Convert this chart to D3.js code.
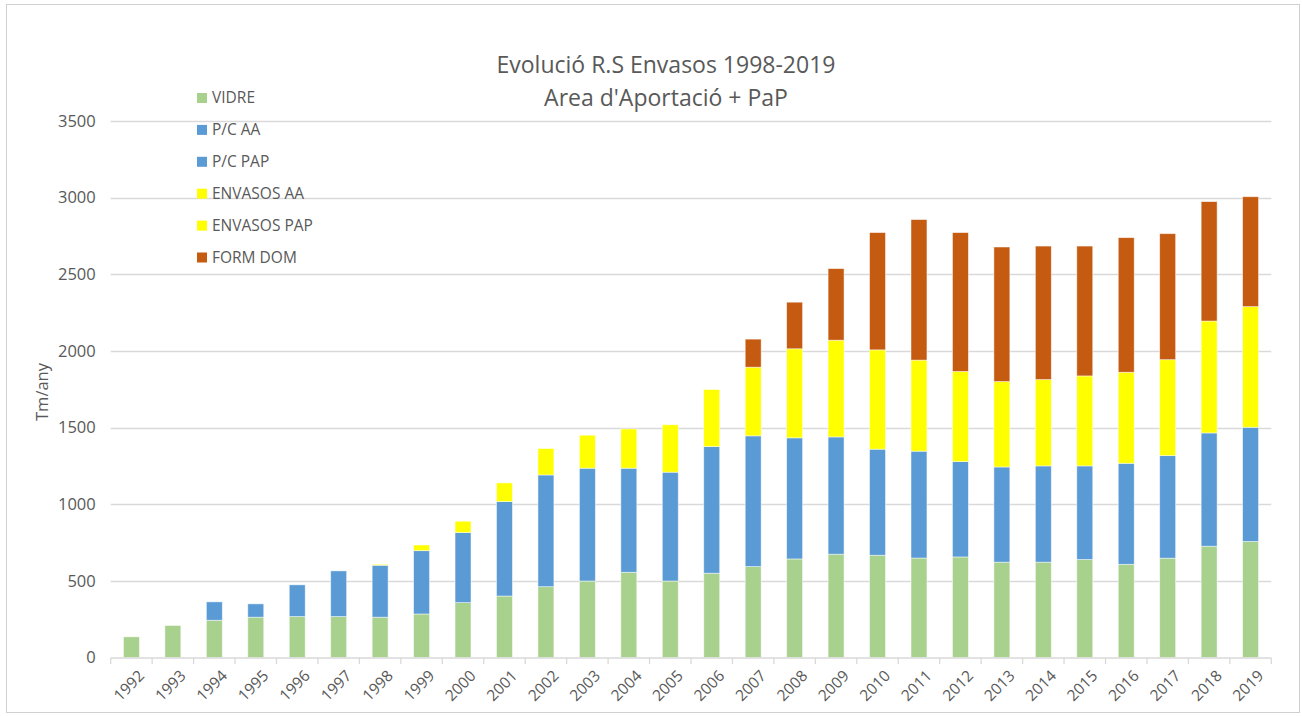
<!DOCTYPE html>
<html>
<head>
<meta charset="utf-8">
<script src="https://cdn.jsdelivr.net/npm/d3@7"></script>
<style>
  html, body { margin: 0; padding: 0; background: #fff; }
  svg { display: block; font-family: "Open Sans", "Noto Sans", sans-serif; }
</style>
</head>
<body>
<svg id="chart" width="1302" height="716"></svg>
<script>
const years = ["1992","1993","1994","1995","1996","1997","1998","1999","2000","2001","2002","2003","2004","2005","2006","2007","2008","2009","2010","2011","2012","2013","2014","2015","2016","2017","2018","2019"];
const vidre     = [135,209,243,263,267,267,263,284,358,401,462,499,556,499,550,593,643,674,667,649,656,622,622,639,608,648,726,757];
const pcAA      = [0,0,120,87,207,298,339,413,457,616,729,736,679,710,826,853,790,765,692,697,622,621,628,611,659,669,739,745];
const pcPAP     = [0,0,0,0,0,0,0,0,0,0,0,0,0,0,0,0,0,0,0,0,0,0,0,0,0,0,0,0];
const envasosAA = [0,0,0,0,0,0,6,37,74,122,172,215,256,309,372,448,581,631,648,594,588,557,563,587,594,626,730,787];
const envasosPAP= [0,0,0,0,0,0,0,0,0,0,0,0,0,0,0,0,0,0,0,0,0,0,0,0,0,0,0,0];
const formDom   = [0,0,0,0,0,0,0,0,0,0,0,0,0,0,0,183,304,467,765,917,906,878,871,847,878,822,779,717];
const yTicks = [0,500,1000,1500,2000,2500,3000,3500];
const seriesNames = ["VIDRE","P/C AA","P/C PAP","ENVASOS AA","ENVASOS PAP","FORM DOM"];
const seriesColors = ["#a9d18e","#5b9bd5","#5b9bd5","#ffff00","#ffff00","#c55a11"];
const titleLines = ["Evolució R.S Envasos 1998-2019","Area d'Aportació + PaP"];
const yLabel = "Tm/any";

const seriesValues = [vidre, pcAA, pcPAP, envasosAA, envasosPAP, formDom];
const table = years.map((y, i) => {
  const row = { year: y };
  seriesNames.forEach((n, k) => row[n] = seriesValues[k][i]);
  return row;
});

const svg = d3.select("#chart");
const textColor = "#595959";

// outer border
svg.append("rect").attr("x", 6.5).attr("y", 4.5).attr("width", 1293).attr("height", 708)
  .attr("fill", "#fff").attr("stroke", "#d0d0d0").attr("stroke-width", 1);

const x = d3.scaleBand().domain(years).range([110.7, 1271.3]).paddingInner(0.615).paddingOuter(0.3075);
const y = d3.scaleLinear().domain([0, 3500]).range([657.5, 121]);

// gridlines
svg.append("g").selectAll("line").data(yTicks.filter(t => t > 0)).join("line")
  .attr("x1", 110.7).attr("x2", 1271.3)
  .attr("y1", d => Math.round(y(d)) + 0.5).attr("y2", d => Math.round(y(d)) + 0.5)
  .attr("stroke", "#d9d9d9").attr("stroke-width", 1.3);

// y axis labels
const yAxis = svg.append("g").attr("transform", "translate(110.7,0)")
  .call(d3.axisLeft(y).tickValues(yTicks).tickSize(0).tickPadding(15).tickFormat(d3.format("d")));
yAxis.select(".domain").remove();
yAxis.selectAll("text").attr("fill", textColor).style("font-size", "16.5px").style("font-family", "'Open Sans', sans-serif");

// stacked bars
const stack = d3.stack().keys(seriesNames);
const stacked = stack(table);
const color = d3.scaleOrdinal().domain(seriesNames).range(seriesColors);

svg.append("g").selectAll("g").data(stacked).join("g")
  .attr("fill", d => color(d.key))
  .selectAll("rect").data(d => d.filter(p => p[1] - p[0] > 0)).join("rect")
  .attr("x", d => x(d.data.year))
  .attr("width", x.bandwidth())
  .attr("y", d => y(d[1]))
  .attr("height", d => y(d[0]) - y(d[1]))
  .attr("stroke", "#ffffff").attr("stroke-opacity", 0.6).attr("stroke-width", 0.8);

// x axis
const xEdge = d3.scaleLinear().domain([0, years.length]).range([110.7, 1271.3]);
const xAxisG = svg.append("g");
xAxisG.append("line").attr("x1", 110.7).attr("x2", 1271.3).attr("y1", 658).attr("y2", 658)
  .attr("stroke", "#d9d9d9").attr("stroke-width", 1.3);
xAxisG.selectAll("line.tick").data(d3.range(years.length + 1)).join("line").attr("class", "tick")
  .attr("x1", d => xEdge(d)).attr("x2", d => xEdge(d)).attr("y1", 658).attr("y2", 664)
  .attr("stroke", "#d9d9d9").attr("stroke-width", 1.3);
xAxisG.selectAll("text").data(years).join("text")
  .attr("transform", d => `translate(${x(d) + x.bandwidth() / 2 + 10},${673}) rotate(-45)`)
  .attr("text-anchor", "end").attr("dy", "0.35em")
  .attr("fill", textColor).style("font-size", "15.5px")
  .text(d => d);

// y axis title
svg.append("text").attr("transform", "translate(42,392) rotate(-90)")
  .attr("text-anchor", "middle").attr("dy", "0.35em")
  .attr("fill", textColor).style("font-size", "16.5px").text(yLabel);

// title
svg.append("g").selectAll("text").data(titleLines).join("text")
  .attr("x", 666).attr("y", (d, i) => 73 + i * 33)
  .attr("text-anchor", "middle").attr("fill", textColor)
  .style("font-size", "23px").text(d => d);

// legend
const leg = svg.append("g").selectAll("g").data(seriesNames).join("g")
  .attr("transform", (d, i) => `translate(197,${98 + i * 31.9})`);
leg.append("rect").attr("x", 0).attr("y", -5).attr("width", 10).attr("height", 10)
  .attr("fill", (d, i) => seriesColors[i]);
leg.append("text").attr("x", 15).attr("y", 0).attr("dy", "0.35em")
  .attr("fill", textColor).style("font-size", "15.5px").text(d => d);
</script>
</body>
</html>
